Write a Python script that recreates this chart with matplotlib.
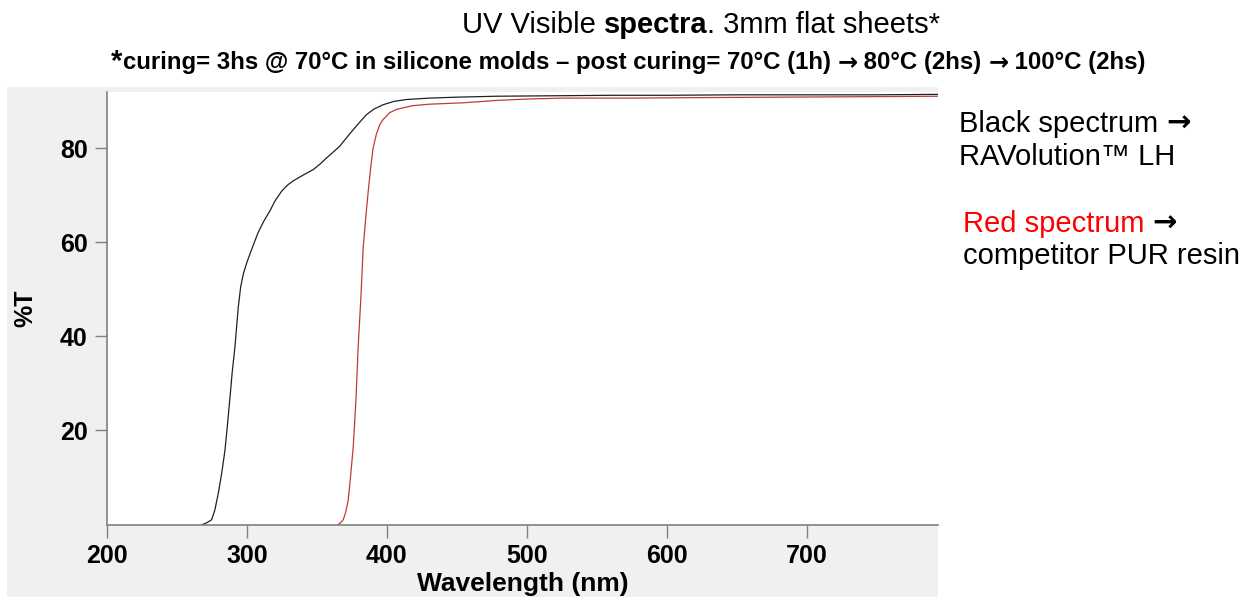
import matplotlib.pyplot as plt
from matplotlib.patches import Rectangle

# black spectrum (RAVolution LH)
black_wl = [268, 270, 272, 274.7, 277, 279.5, 282, 284.3, 286, 287.9, 289.5, 291.4, 293.8,
            295.5, 297.4, 300, 302.1, 305, 308, 312, 316.4, 320, 324.8, 329, 333.1, 340, 347.4,
            352, 357, 362, 366.4, 371, 376, 381, 385.5, 391, 397.4, 405, 414, 430, 450, 478,
            520, 560, 600, 650, 700, 750, 794]
black_t = [0, 0.2, 0.5, 1.0, 3.0, 6.6, 11.0, 15.8, 21.0, 27.1, 32.5, 37.7, 46.2,
           50.5, 53.3, 55.8, 57.5, 59.8, 62.1, 64.5, 66.7, 68.8, 70.9, 72.2, 73.1, 74.3, 75.5,
           76.6, 78.0, 79.3, 80.5, 82.2, 84.0, 85.7, 87.2, 88.4, 89.3, 90.0, 90.4, 90.7, 90.9, 91.1,
           91.2, 91.3, 91.3, 91.4, 91.4, 91.4, 91.5]

# red spectrum (competitor PUR resin)
red_wl = [365.2, 367, 368.8, 370.5, 372.4, 374, 376, 378, 379.5, 381.5, 383.1, 385,
          386.7, 388.5, 390.2, 392.5, 395, 397.5, 399.8, 402, 407, 414, 418.8, 430, 454.5, 478,
          500, 526, 573.6, 620, 680, 740, 794]
red_t = [0, 0.4, 1.0, 2.5, 5.2, 10.0, 16.5, 27.0, 37.7, 48.5, 58.9, 65.5,
         70.9, 76.0, 80.1, 83.0, 85.1, 86.2, 86.9, 87.6, 88.3, 88.8, 89.1, 89.4, 89.7, 90.2,
         90.5, 90.7, 90.7, 90.8, 90.9, 91.0, 91.1]

x_ticks = [200, 300, 400, 500, 600, 700]
y_ticks = [20, 40, 60, 80]

LIB = 'Liberation Sans'
ARROW = dict(family='DejaVu Sans', fontweight='bold')


def chain(fig, pieces, x, y, ha='left', **common):
    """Draw text pieces one after another on one line (figure coords)."""
    texts = []
    for s, kw in pieces:
        opts = dict(common)
        opts.update(kw)
        texts.append(fig.text(x, y, s, va='center', ha='left', **opts))
    r = fig.canvas.get_renderer()
    widths = [t.get_window_extent(r).width / fig.bbox.width for t in texts]
    total = sum(widths)
    start = x - total / 2 if ha == 'center' else x
    for t, w in zip(texts, widths):
        t.set_x(start)
        start += w
    return texts


fig = plt.figure(figsize=(12.52, 5.97), dpi=100)
fig.patch.set_facecolor('white')

# grey window of the spectrometer screenshot
fig.patches.append(Rectangle((0.0056, 0), 0.7436, 0.8543, transform=fig.transFigure,
                             facecolor='#f0f0f0', edgecolor='none', zorder=-10))

ax = fig.add_axes([0.0855, 0.1214, 0.6637, 0.7245])
ax.set_facecolor('white')
ax.plot(black_wl, black_t, color='#202020', lw=0.9)
ax.plot(red_wl, red_t, color='#c03a3a', lw=0.9)

ax.set_xlim(200, 794)
ax.set_ylim(0, 92)
ax.set_xticks(x_ticks)
ax.set_yticks(y_ticks)
for s in ['top', 'right']:
    ax.spines[s].set_visible(False)
for s in ['left', 'bottom']:
    ax.spines[s].set_color('#808080')
    ax.spines[s].set_linewidth(1.2)
ax.tick_params(axis='both', length=9, width=1, color='#808080', pad=5)
for lab in ax.get_xticklabels() + ax.get_yticklabels():
    lab.set_fontfamily(LIB)
    lab.set_fontweight('bold')
    lab.set_fontsize(18)
ax.set_xlabel('Wavelength (nm)', fontfamily=LIB, fontweight='bold', fontsize=19, labelpad=3)
ax.set_ylabel('%T', fontfamily=LIB, fontweight='bold', fontsize=18, labelpad=16)

# title and curing note
chain(fig, [('UV Visible ', {}), ('spectra', {'fontweight': 'bold'}),
            ('. 3mm flat sheets*', {})],
      0.56, 0.958, ha='center', family=LIB, fontsize=21)
chain(fig, [('*', {'fontsize': 21}),
            ('curing= 3hs @ 70°C in silicone molds – post curing= 70°C (1h) ', {}),
            ('→', ARROW), (' 80°C (2hs) ', {}), ('→', ARROW), (' 100°C (2hs)', {})],
      0.502, 0.896, ha='center', family=LIB, fontsize=17.3, fontweight='bold')

# notes on the right
chain(fig, [('Black spectrum ', {}), ('→', ARROW)], 0.766, 0.793, family=LIB, fontsize=21)
fig.text(0.766, 0.737, 'RAVolution™ LH', family=LIB, fontsize=21, va='center')
chain(fig, [('Red spectrum ', {'color': '#ff0000'}), ('→', ARROW)], 0.769, 0.625,
      family=LIB, fontsize=21)
fig.text(0.769, 0.571, 'competitor PUR resin', family=LIB, fontsize=21, va='center')

fig.savefig('out.png', dpi=100)
